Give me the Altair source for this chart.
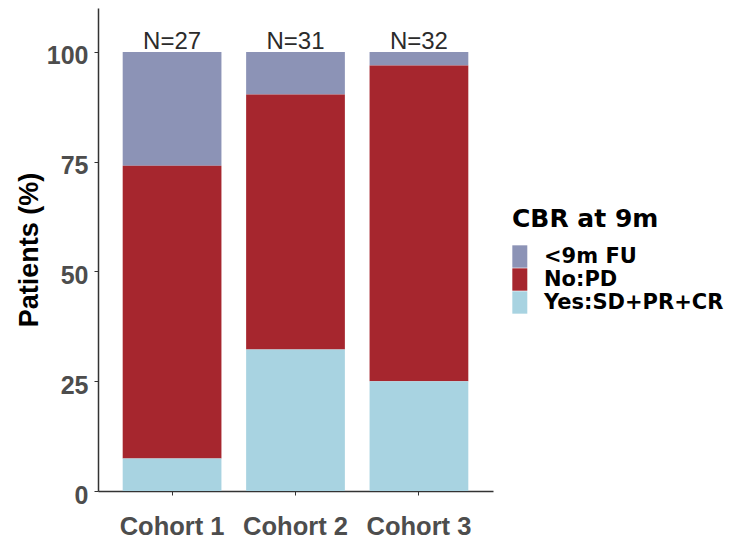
import altair as alt
import pandas as pd

# Clinical benefit rate at 9 months, percentage of patients per cohort
cohorts = ["Cohort 1", "Cohort 2", "Cohort 3"]
n_patients = [27, 31, 32]
categories = ["<9m FU", "No:PD", "Yes:SD+PR+CR"]
pct_fu = [25.9, 9.7, 3.1]
pct_no = [66.7, 58.1, 71.9]
pct_yes = [7.4, 32.2, 25.0]
colors = ["#8C93B6", "#A6262E", "#A8D3E1"]

FONT = "Liberation Sans, Arial, Helvetica, sans-serif"
LEGEND_FONT = "DejaVu Sans, Liberation Sans, sans-serif"

rows = []
for i, cohort in enumerate(cohorts):
    for k, (cat, vals) in enumerate(zip(categories, [pct_fu, pct_no, pct_yes])):
        # stack "Yes" at the bottom, "<9m FU" on top
        rows.append({"cohort": cohort, "cbr": cat, "pct": vals[i], "stack_order": len(categories) - 1 - k})
bars_df = pd.DataFrame(rows)

labels_df = pd.DataFrame({
    "cohort": cohorts,
    "label": [f"N={n}" for n in n_patients],
    "total": [round(pct_fu[i] + pct_no[i] + pct_yes[i]) for i in range(len(cohorts))],
})

x_enc = alt.X(
    "cohort:N",
    sort=cohorts,
    title=None,
    scale=alt.Scale(paddingInner=0.2, paddingOuter=0.2),
    axis=alt.Axis(
        labelAngle=0,
        labelFont=FONT,
        labelFontSize=25.5,
        labelFontWeight="bold",
        labelColor="#4D4D4D",
        labelPadding=19,
        tickSize=4,
        tickColor="#333333",
        domainColor="#333333",
        domainWidth=1.5,
        grid=False,
    ),
)

bars = alt.Chart(bars_df).mark_bar().encode(
    x=x_enc,
    y=alt.Y(
        "pct:Q",
        stack="zero",
        scale=alt.Scale(domain=[0, 110], nice=False),
        axis=alt.Axis(
            values=[0, 25, 50, 75, 100],
            title="Patients (%)",
            titleFont=FONT,
            titleFontSize=27,
            titleFontWeight="bold",
            titleColor="#000000",
            titleX=-69,
            titleY=241.5,
            titleAlign="center",
            titleBaseline="middle",
            labelFont=FONT,
            labelFontSize=25,
            labelFontWeight="bold",
            labelColor="#4D4D4D",
            labelPadding=6,
            labelOffset=4,
            tickSize=4,
            tickColor="#333333",
            domainColor="#333333",
            domainWidth=1.5,
            grid=False,
        ),
    ),
    color=alt.Color(
        "cbr:N",
        scale=alt.Scale(domain=categories, range=colors),
        legend=alt.Legend(
            title="CBR at 9m",
            orient="none",
            direction="vertical",
            legendX=414,
            legendY=199,
            titleFont=LEGEND_FONT,
            titleFontSize=25,
            titleFontWeight="bold",
            titleColor="#000000",
            titlePadding=13,
            titleLimit=0,
            labelFont=LEGEND_FONT,
            labelFontSize=21,
            labelFontWeight="bold",
            labelColor="#000000",
            labelOffset=9,
            labelLimit=0,
            symbolType="M-1,-1H0.34V1H-1Z",
            symbolSize=500,
            symbolStrokeWidth=0,
            symbolOpacity=1,
            rowPadding=0,
        ),
    ),
    order=alt.Order("stack_order:Q"),
)

n_labels = alt.Chart(labels_df).mark_text(
    font=FONT, fontSize=24, color="#2B2B2B", baseline="alphabetic", dy=-3
).encode(
    x=alt.X("cohort:N", sort=cohorts),
    y=alt.Y("total:Q"),
    text="label:N",
)

chart = (
    alt.layer(bars, n_labels)
    .properties(
        width=395,
        height=483,
        autosize=alt.AutoSizeParams(type="none"),
        padding={"left": 98, "top": 8, "right": 243, "bottom": 50},
        background="#FFFFFF",
    )
    .configure_view(strokeWidth=0)
)

chart.save("out.html", embed_options={"renderer": "svg", "actions": False})
